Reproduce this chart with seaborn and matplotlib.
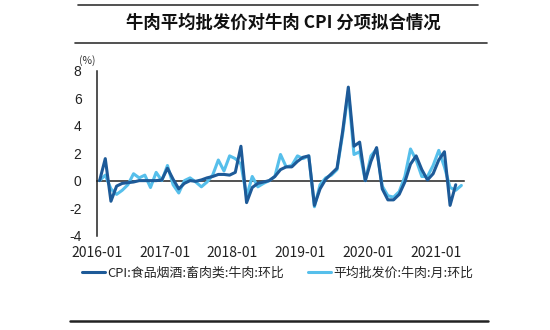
import numpy as np
import pandas as pd
import matplotlib
matplotlib.use("Agg")
import matplotlib.pyplot as plt
from matplotlib.lines import Line2D
import seaborn as sns

sns.set_style("white")
plt.rcParams['font.family'] = ['Noto Sans CJK SC', 'DejaVu Sans']
plt.rcParams['axes.unicode_minus'] = False

title = "牛肉平均批发价对牛肉 CPI 分项拟合情况"
series_cpi = "CPI:食品烟酒:畜肉类:牛肉:环比"
series_wh = "平均批发价:牛肉:月:环比"
tick_labels = ["2016-01", "2017-01", "2018-01", "2019-01", "2020-01", "2021-01"]
tick_months = [0, 12, 24, 36, 48, 60]
y_ticks = [-4, -2, 0, 2, 4, 6, 8]

cpi = [0.0, 1.6, -1.5, -0.4, -0.2, -0.15, -0.1, 0.0, 0.0, 0.0, 0.0, 0.05,
       0.9, 0.1, -0.6, -0.2, 0.0, -0.05, 0.05, 0.2, 0.3, 0.45, 0.45, 0.4,
       0.6, 2.5, -1.6, -0.5, -0.2, -0.1, 0.0, 0.3, 0.8, 1.0, 1.0, 1.4,
       1.7, 1.8, -1.8, -0.6, 0.1, 0.5, 0.9, 3.6, 6.8, 2.5, 2.8, 0.0,
       1.4, 2.4, -0.6, -1.4, -1.4, -1.0, -0.1, 1.2, 1.8, 0.8, 0.05, 0.5,
       1.5, 2.1, -1.8, -0.3]
wholesale = [0.0, 0.4, -0.6, -1.0, -0.7, -0.3, 0.5, 0.2, 0.4, -0.5, 0.6, 0.0,
             1.1, -0.3, -0.9, 0.0, 0.2, -0.1, -0.45, -0.1, 0.4, 1.5, 0.7, 1.8,
             1.6, 1.2, -1.15, 0.3, -0.45, -0.2, 0.0, 0.3, 1.9, 1.0, 1.1, 1.8,
             1.6, 1.8, -1.9, -0.3, 0.2, 0.4, 0.8, 3.4, 6.5, 1.9, 2.1, 0.0,
             1.8, 2.3, -0.4, -1.1, -1.2, -0.8, 0.3, 2.3, 1.5, 0.3, 0.3, 1.1,
             2.2, 1.0, -0.5, -0.7, -0.35]

c_dark = "#1d5a98"
c_light = "#56bfeb"

df = pd.concat([
    pd.DataFrame({"m": np.arange(len(cpi)), "v": cpi, "s": series_cpi}),
    pd.DataFrame({"m": np.arange(len(wholesale)), "v": wholesale, "s": series_wh}),
])

fig = plt.figure(figsize=(5.5, 3.3), dpi=100)
ax = fig.add_axes([0.176, 0.286, 0.668, 0.500])
sns.lineplot(data=df, x="m", y="v", hue="s", palette=[c_dark, c_light],
             hue_order=[series_cpi, series_wh], linewidth=2.2, ax=ax,
             legend=False, solid_joinstyle="round", solid_capstyle="round")
lines = ax.get_lines()
if len(lines) >= 2:
    lines[0].set_zorder(4)
    lines[1].set_zorder(3)

ax.set_xlim(-0.5, 64.5)
ax.set_ylim(-4, 8)
ax.set_xlabel("")
ax.set_ylabel("")
ax.set_yticks(y_ticks)
ax.set_yticklabels([str(t) for t in y_ticks], family=['Liberation Sans', 'DejaVu Sans'], fontsize=10)
ax.set_xticks([t - 0.5 for t in tick_months])
ax.set_xticklabels(tick_labels, family=['Liberation Sans', 'DejaVu Sans'], fontsize=10)

for s in ["top", "right"]:
    ax.spines[s].set_visible(False)
ax.spines["left"].set_color("#222222")
ax.spines["left"].set_linewidth(1.1)
ax.spines["bottom"].set_position(("data", 0))
ax.spines["bottom"].set_color("#222222")
ax.spines["bottom"].set_linewidth(1.1)
ax.tick_params(axis="y", direction="out", length=3, width=1, color="#222222", pad=8, labelcolor="#222222")
ax.tick_params(axis="x", direction="out", length=2.5, width=1, color="#222222", pad=44.5, labelcolor="#222222")

fig.text(0.158, 0.818, "(%)", fontsize=7.5, ha="center", va="center", color="#333333")

fig.text(0.515, 0.930, title, fontsize=12.5, ha="center", va="center",
         color="#111111", weight="bold")
fig.add_artist(Line2D([0.142, 0.869], [0.984, 0.984], color="#333333", lw=1.2))
fig.add_artist(Line2D([0.136, 0.886], [0.870, 0.870], color="#333333", lw=1.2))
fig.add_artist(Line2D([0.127, 0.887], [0.027, 0.027], color="#222222", lw=1.8))

handles = [Line2D([0], [0], color=c_dark, lw=2.2), Line2D([0], [0], color=c_light, lw=2.2)]
fig.legend(handles, [series_cpi, series_wh], loc="center", bbox_to_anchor=(0.505, 0.173),
           ncol=2, frameon=False, fontsize=9.3, handlelength=1.8, handletextpad=0.2,
           columnspacing=1.8)

fig.savefig("out.png", dpi=100)
